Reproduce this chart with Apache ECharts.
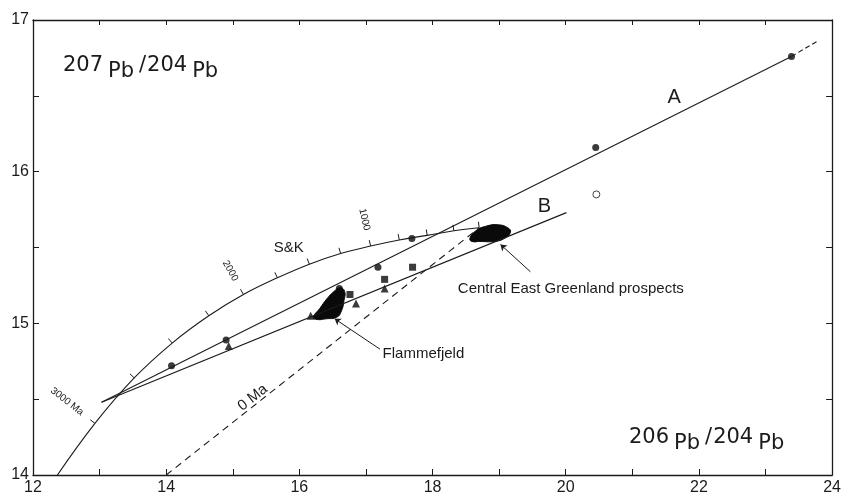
<!DOCTYPE html>
<html lang="en">
<head>
<meta charset="UTF-8">
<script src="https://cdn.jsdelivr.net/npm/echarts@6/dist/echarts.min.js"></script>
<style>html,body{margin:0;padding:0;background:#fff;}</style>
</head>
<body>
<div id="main" style="width:844px;height:497px;"></div>
<script>
// Stacey & Kramers growth curve, 0 .. 3250 Ma in 250 Ma steps
var skAge = [0, 250, 500, 750, 1000, 1250, 1500, 1750, 2000, 2250, 2500, 2750, 3000, 3250];
var skX = [18.70, 18.32, 17.92, 17.50, 17.07, 16.62, 16.15, 15.67, 15.16, 14.64, 14.09, 13.52, 12.93, 12.32];
var skY = [15.63, 15.61, 15.58, 15.55, 15.51, 15.46, 15.39, 15.30, 15.19, 15.05, 14.87, 14.64, 14.34, 13.97];
var skLabels = {1000: '1000', 2000: '2000', 3000: '3000 Ma'};

// lines A, B and the 0 Ma geochron
var lineA = [[13.03, 14.48], [23.39, 16.76]];
var lineAExt = [[23.39, 16.76], [23.78, 16.86]];
var lineB = [[13.03, 14.48], [20.01, 15.73]];
var geochron = [[14.0, 14.0], [18.70, 15.63]];

// samples
var circles = [[14.08, 14.72], [14.90, 14.89], [16.60, 15.23], [17.18, 15.37], [17.69, 15.56], [20.45, 16.16], [23.39, 16.76]];
var openCircles = [[20.46, 15.85]];
var triangles = [[14.94, 14.85], [16.17, 15.05], [16.85, 15.13], [17.28, 15.23]];
var squares = [[16.76, 15.19], [17.28, 15.29], [17.70, 15.37]];

// fields
var flammefjeld = [[16.21, 15.04], [16.31, 15.10], [16.41, 15.16], [16.52, 15.21], [16.61, 15.235], [16.68, 15.21],
    [16.67, 15.15], [16.63, 15.08], [16.56, 15.04], [16.40, 15.03], [16.27, 15.025]];
var greenland = [[18.56, 15.56], [18.65, 15.61], [18.80, 15.64], [18.98, 15.65], [19.13, 15.63], [19.17, 15.60],
    [19.08, 15.56], [18.92, 15.54], [18.71, 15.54], [18.59, 15.54]];
var fields = [flammefjeld, greenland];

var arrows = [
    [[17.21, 14.83], [16.53, 15.03]],
    [[19.47, 15.34], [19.02, 15.52]]
];

var ink = '#1b1b1b';
var font = 'Liberation Sans, Arial, sans-serif';
var wide = 'DejaVu Sans, sans-serif';

var chart = echarts.init(document.getElementById('main'));

function pairs(xs, ys) {
    return xs.map(function (x, i) { return [x, ys[i]]; });
}

var tickData = pairs(skX, skY).slice(0, 13);

var option = {
    animation: false,
    grid: {left: 33, right: 11, top: 20, bottom: 22},
    xAxis: [{
        type: 'value', min: 12, max: 24, interval: 1,
        axisLine: {onZero: false, lineStyle: {color: ink, width: 1.3}},
        axisTick: {inside: true, length: 6, lineStyle: {color: ink}},
        axisLabel: {
            color: ink, fontSize: 16, fontFamily: font, margin: 5,
            formatter: function (v) { return v % 2 === 0 ? String(v) : ''; }
        },
        splitLine: {show: false}
    }, {
        type: 'value', position: 'top', min: 12, max: 24, interval: 1,
        axisLine: {onZero: false, lineStyle: {color: ink, width: 1.3}},
        axisTick: {inside: true, length: 5, lineStyle: {color: ink}},
        axisLabel: {show: false},
        splitLine: {show: false}
    }],
    yAxis: [{
        type: 'value', min: 14, max: 17, interval: 0.5,
        axisLine: {onZero: false, lineStyle: {color: ink, width: 1.3}},
        axisTick: {inside: true, length: 6, lineStyle: {color: ink}},
        axisLabel: {
            color: ink, fontSize: 16, fontFamily: font, margin: 4,
            formatter: function (v) { return v % 1 === 0 ? String(v) : ''; }
        },
        splitLine: {show: false}
    }, {
        type: 'value', position: 'right', min: 14, max: 17, interval: 0.5,
        axisLine: {onZero: false, lineStyle: {color: ink, width: 1.3}},
        axisTick: {inside: true, length: 6, lineStyle: {color: ink}},
        axisLabel: {show: false},
        splitLine: {show: false}
    }],
    series: [
        {
            name: 'S&K', type: 'line', data: pairs(skX, skY), smooth: 0.4, symbol: 'none',
            lineStyle: {color: ink, width: 1.1}
        },
        {
            // age ticks on the growth curve
            type: 'custom', data: tickData, silent: true,
            renderItem: function (params, api) {
                var i = params.dataIndex;
                var p = api.coord([skX[i], skY[i]]);
                var a = api.coord([skX[i + 1], skY[i + 1]]);
                var b = i > 0 ? api.coord([skX[i - 1], skY[i - 1]]) : p;
                var tx = b[0] - a[0], ty = b[1] - a[1];
                var len = Math.sqrt(tx * tx + ty * ty);
                tx /= len; ty /= len;
                var ox = ty, oy = -tx;   // outward normal, upper side
                var kids = [{
                    type: 'line',
                    shape: {x1: p[0], y1: p[1], x2: p[0] + ox * 6, y2: p[1] + oy * 6},
                    style: {stroke: ink, lineWidth: 1}
                }];
                var txt = skLabels[skAge[i]];
                if (txt) {
                    kids.push({
                        type: 'text',
                        x: p[0] + ox * 16, y: p[1] + oy * 16,
                        rotation: Math.atan2(oy, -ox),
                        style: {
                            text: txt, fill: ink, fontSize: 10, fontFamily: font,
                            align: 'right', verticalAlign: 'middle'
                        }
                    });
                }
                return {type: 'group', children: kids};
            }
        },
        {
            type: 'line', data: lineA, symbol: 'none',
            lineStyle: {color: ink, width: 1.1}
        },
        {
            type: 'line', data: lineAExt, symbol: 'none',
            lineStyle: {color: ink, width: 1.1, type: [5, 3]}
        },
        {
            type: 'line', data: lineB, symbol: 'none',
            lineStyle: {color: ink, width: 1.1}
        },
        {
            type: 'line', data: geochron, symbol: 'none',
            lineStyle: {color: ink, width: 1.1, type: [7, 5]}
        },
        {
            // ore fields
            type: 'custom', data: [[16.45, 15.13], [18.86, 15.60]], silent: true,
            renderItem: function (params, api) {
                var pts = fields[params.dataIndex].map(function (d) { return api.coord(d); });
                return {
                    type: 'polygon',
                    shape: {points: pts, smooth: 0.5},
                    style: {fill: '#0a0a0a', stroke: '#0a0a0a', lineWidth: 1}
                };
            }
        },
        {
            type: 'lines', coordinateSystem: 'cartesian2d', silent: true,
            symbol: ['none', 'arrow'], symbolSize: 6,
            lineStyle: {color: ink, width: 1, opacity: 1},
            data: arrows.map(function (c) { return {coords: c}; })
        },
        {
            type: 'scatter', data: circles, symbol: 'circle', symbolSize: 7,
            itemStyle: {color: '#0a0a0a'}
        },
        {
            type: 'scatter', data: openCircles, symbol: 'circle', symbolSize: 7,
            itemStyle: {color: '#fff', borderColor: ink, borderWidth: 1}
        },
        {
            type: 'scatter', data: triangles, symbol: 'triangle', symbolSize: 8,
            itemStyle: {color: '#0a0a0a'}
        },
        {
            type: 'scatter', data: squares, symbol: 'rect', symbolSize: 7,
            itemStyle: {color: '#0a0a0a'}
        }
    ]
};

chart.setOption(option);

function at(x, y) {
    return chart.convertToPixel({gridIndex: 0}, [x, y]);
}

function note(x, y, text, size, extra) {
    var p = at(x, y);
    var el = {
        type: 'text', x: p[0], y: p[1], silent: true,
        style: {
            text: text, fill: ink, fontSize: size, fontFamily: font,
            align: 'center', verticalAlign: 'middle'
        }
    };
    if (extra) {
        for (var k in extra.style || {}) el.style[k] = extra.style[k];
        if (extra.rotation) el.rotation = extra.rotation;
    }
    return el;
}

var isoRich = {
    n: {fontSize: 21, fontFamily: wide, fill: ink, lineHeight: 21, verticalAlign: 'top'},
    s: {fontSize: 21, fontFamily: wide, fill: ink, lineHeight: 21, verticalAlign: 'top', padding: [0, 1, 0, 0]},
    p: {fontSize: 21, fontFamily: wide, fill: ink, lineHeight: 27, verticalAlign: 'bottom', padding: [0, 5, 0, 5]}
};

chart.setOption({
    graphic: [
        note(21.63, 16.49, 'A', 20),
        note(19.68, 15.77, 'B', 20),
        note(15.84, 15.50, 'S&K', 15),
        note(15.30, 14.51, '0 Ma', 15, {rotation: 38 * Math.PI / 180}),
        note(17.25, 14.80, 'Flammefjeld', 15, {style: {align: 'left'}}),
        note(18.38, 15.23, 'Central East Greenland prospects', 15, {style: {align: 'left'}}),
        note(12.45, 16.68, '{n|207}{p|Pb}{s|/}{n|204}{p|Pb}', 21, {style: {align: 'left', rich: isoRich}}),
        note(20.95, 14.23, '{n|206}{p|Pb}{s|/}{n|204}{p|Pb}', 21, {style: {align: 'left', rich: isoRich}})
    ]
});
</script>
</body>
</html>
